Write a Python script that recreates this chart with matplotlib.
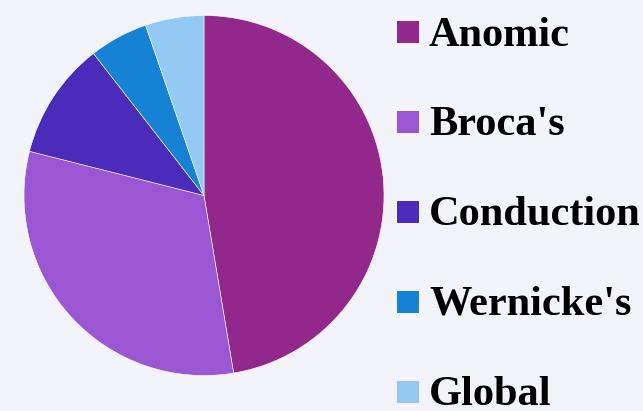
import matplotlib.pyplot as plt
from matplotlib.patches import Rectangle

# aphasia types and counts
labels = ["Anomic", "Broca's", "Conduction", "Wernicke's", "Global"]
counts = [27, 18, 6, 3, 3]
colors = ["#93288C", "#9B57D3", "#4A2BBA", "#1682D3", "#94C9F4"]

W, H = 643, 411
bg = "#F3F4FA"

fig = plt.figure(figsize=(W / 100, H / 100), dpi=100, facecolor=bg)

# pie: center (204, 195.5) px, radius 180 px
cx, cy, r = 204, 195.5, 180
ax = fig.add_axes([(cx - r) / W, (H - cy - r) / H, 2 * r / W, 2 * r / H])
ax.set_facecolor(bg)
ax.pie(counts, colors=colors, startangle=90, counterclock=False,
       wedgeprops=dict(edgecolor="white", linewidth=0.4))
ax.set_xlim(-1, 1)
ax.set_ylim(-1, 1)
ax.set_aspect("auto")
ax.axis("off")

# legend on the right
for i, (lab, col) in enumerate(zip(labels, colors)):
    top = 21 + 90 * i
    fig.patches.append(Rectangle((397 / W, 1 - (top + 22) / H), 22 / W, 22 / H,
                                 transform=fig.transFigure, facecolor=col,
                                 edgecolor="none"))
    fig.text(429 / W, 1 - (45.5 + 89.8 * i) / H, lab, va="baseline", ha="left",
             fontsize=30.5, fontweight="bold", family="Liberation Serif",
             color="black")

fig.savefig("out.png", dpi=100, facecolor=bg)
